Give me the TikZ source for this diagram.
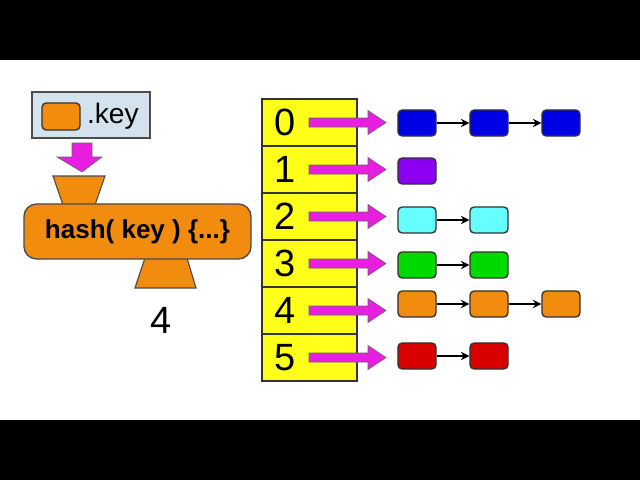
\documentclass[tikz,border=0pt]{standalone}
\usepackage{fontspec}
\setmainfont{Liberation Sans}
\usetikzlibrary{arrows.meta, positioning}
\definecolor{keyblue}{HTML}{D4E2EE}
\definecolor{hashor}{HTML}{F28C0F}
\definecolor{slotyl}{HTML}{FFFF1A}
\definecolor{ptrmag}{HTML}{E81EE0}
\definecolor{itemcyan}{HTML}{66FFFF}
\definecolor{itempurple}{HTML}{8B00F0}
\tikzset{
  px/.style={x=0.025cm, y=-0.025cm},
  item/.style={draw=black!80, line width=1pt, rounded corners=3pt, minimum width=0.95cm, minimum height=0.65cm, inner sep=0pt},
  slot/.style={draw=black!80, fill=slotyl, line width=0.8pt, minimum width=2.375cm, minimum height=1.175cm, inner sep=0pt},
  link/.style={-{Stealth[length=6pt,width=6pt]}, line width=0.9pt},
  bigptr/.style={draw=black!60, fill=ptrmag, line width=0.4pt}
}
\begin{document}
\begin{tikzpicture}[px]
\fill[black] (0,0) rectangle (640,480);
\fill[white] (0,60) rectangle (640,420);
% key box and hash function
\draw[fill=keyblue, line width=1pt, draw=black!70] (32,92) rectangle (150,138);
\node[item, fill=hashor, minimum width=0.95cm, minimum height=0.675cm] (keyitem) at (61,116.5) {};
\node[right=1pt of keyitem, font=\fontsize{20}{22}\selectfont] (keytxt) {.key};
\draw[bigptr] (72,143) -- (92,143) -- (92,157) -- (102,157) -- (82,172) -- (57,157) -- (72,157) -- cycle;
\draw[fill=hashor, draw=black!70, line width=0.8pt] (53,176) -- (105,176) -- (95,205) -- (63,205) -- cycle;
\draw[fill=hashor, draw=black!70, line width=0.8pt] (145,258) -- (187,258) -- (196,288) -- (135,288) -- cycle;
\node[draw=black!70, fill=hashor, line width=1pt, rounded corners=9pt, minimum width=5.675cm, minimum height=1.375cm, font=\bfseries\fontsize{18.5}{20}\selectfont] (hash) at (137.5,231.5) {hash( key ) \{...\}};
\node[font=\fontsize{27}{29}\selectfont] (out) at (161,320) {4};
% buckets
\foreach \i/\y in {0/122.5,1/169.5,2/216.5,3/263.5,4/310.5,5/357.5} {
  \node[slot] (s\i) at (309.5,\y) {};
  \node[font=\fontsize{27}{29}\selectfont] at (285,\y) {\i};
  \draw[bigptr] (309,\y-4.5) -- (368,\y-4.5) -- (368,\y-12) -- (386,\y) -- (368,\y+12) -- (368,\y+4.5) -- (309,\y+4.5) -- cycle;
}
% chains
\node[item, fill=blue!90!black] (a0) at (417,123) {};
\node[item, fill=blue!90!black] (a1) at (489,123) {};
\node[item, fill=blue!90!black] (a2) at (561,123) {};
\node[item, fill=itempurple] (b0) at (417,171) {};
\node[item, fill=itemcyan] (c0) at (417,220) {};
\node[item, fill=itemcyan] (c1) at (489,220) {};
\node[item, fill=green!85!black] (d0) at (417,265) {};
\node[item, fill=green!85!black] (d1) at (489,265) {};
\node[item, fill=hashor] (e0) at (417,304) {};
\node[item, fill=hashor] (e1) at (489,304) {};
\node[item, fill=hashor] (e2) at (561,304) {};
\node[item, fill=red!85!black] (f0) at (417,356) {};
\node[item, fill=red!85!black] (f1) at (489,356) {};
\draw[link] (a0) -- (a1);
\draw[link] (a1) -- (a2);
\draw[link] (c0) -- (c1);
\draw[link] (d0) -- (d1);
\draw[link] (e0) -- (e1);
\draw[link] (e1) -- (e2);
\draw[link] (f0) -- (f1);
\end{tikzpicture}
\end{document}
